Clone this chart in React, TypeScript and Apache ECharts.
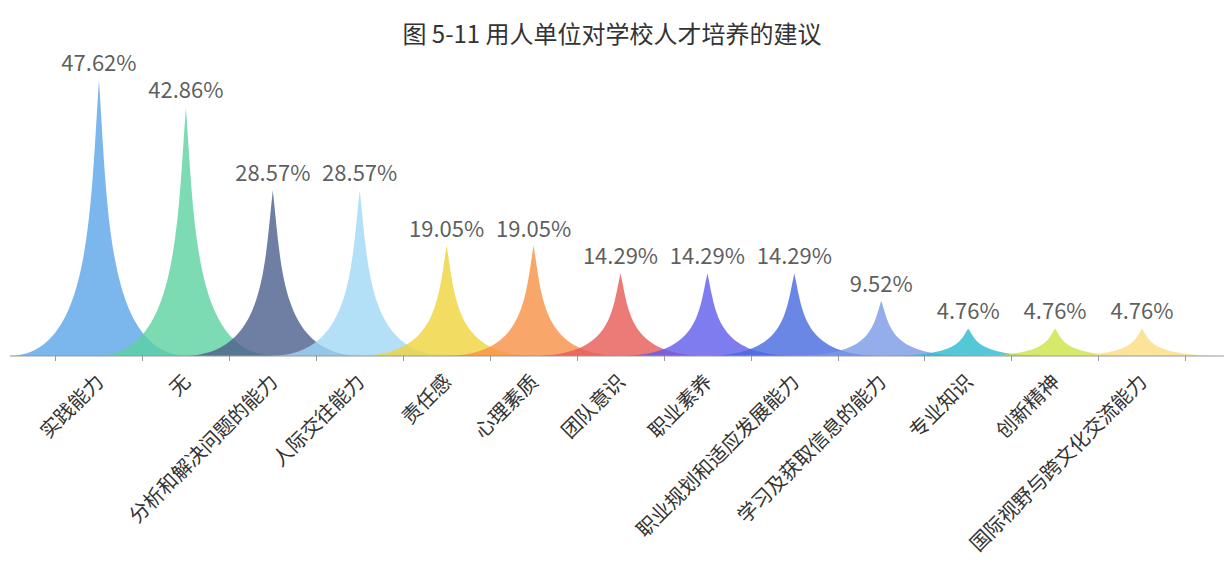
import React, { useEffect, useRef } from "react";
import * as echarts from "echarts";

const titleText = "图 5-11 用人单位对学校人才培养的建议";
const categories = [
  "实践能力",
  "无",
  "分析和解决问题的能力",
  "人际交往能力",
  "责任感",
  "心理素质",
  "团队意识",
  "职业素养",
  "职业规划和适应发展能力",
  "学习及获取信息的能力",
  "专业知识",
  "创新精神",
  "国际视野与跨文化交流能力",
];
const values = [47.62, 42.86, 28.57, 28.57, 19.05, 19.05, 14.29, 14.29, 14.29, 9.52, 4.76, 4.76, 4.76];
const colors = [
  "#5aa4e8",
  "#5cd2a1",
  "#4b5e8c",
  "#a0d8f5",
  "#efd33b",
  "#f79045",
  "#e75a56",
  "#5f5bec",
  "#4669e0",
  "#789ae5",
  "#2bbace",
  "#cee242",
  "#fadd81",
];

const FONT = "'Noto Sans CJK SC', 'Noto Sans', sans-serif";

export default function App() {
  const ref = useRef<HTMLDivElement>(null);
  useEffect(() => {
    document.body.style.margin = "0";
    const chart = echarts.init(ref.current!, null, { renderer: "svg" });
    chart.setOption({
      animation: false,
      backgroundColor: "#ffffff",
      title: {
        text: titleText,
        left: "center",
        top: 15,
        textStyle: { fontFamily: FONT, fontSize: 24, fontWeight: "normal", color: "#333" },
      },
      grid: { left: 55.5, right: 38.5, top: 66, bottom: 214, containLabel: false },
      xAxis: {
        type: "category",
        data: categories,
        axisLine: { show: false },
        axisTick: { show: true, length: 5, lineStyle: { color: "#999" } },
        axisLabel: {
          rotate: 45,
          margin: 21,
          interval: 0,
          fontFamily: FONT,
          fontSize: 20,
          color: "#333",
        },
      },
      yAxis: {
        type: "value",
        min: 0,
        max: 50,
        show: false,
        splitLine: { show: false },
      },
      graphic: [
        {
          type: "line",
          shape: { x1: 10, y1: 356, x2: 1224, y2: 356 },
          style: { stroke: "#999", lineWidth: 1 },
          z: 10,
        },
      ],
      series: [
        {
          type: "pictorialBar",
          barCategoryGap: "-108%",
          symbol: "path://M0,10 L10,10 C5.5,10 5.5,5 5,0 C4.5,5 4.5,10 0,10 z",
          data: values.map((v, i) => ({
            value: v,
            itemStyle: { color: colors[i], opacity: 0.8 },
          })),
          label: {
            show: true,
            position: "top",
            distance: 8,
            fontFamily: FONT,
            fontSize: 22,
            color: "#333",
            formatter: (p: any) => p.value.toFixed(2) + "%",
          },
        },
      ],
    });
    return () => chart.dispose();
  }, []);
  return <div ref={ref} style={{ width: 1224, height: 570 }} />;
}
